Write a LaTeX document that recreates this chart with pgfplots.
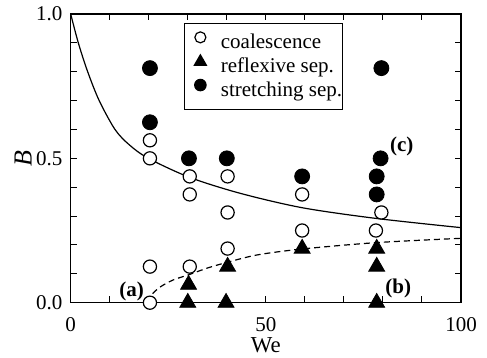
\documentclass[border=0pt]{standalone}
\usepackage{fontspec}
\setmainfont{Liberation Serif}
\usepackage{pgfplots}
\pgfplotsset{compat=1.18}
\begin{document}
\begin{tikzpicture}
\path[use as bounding box] (-35.35pt,-27.65pt) rectangle (208.15pt,151.35pt);
\begin{axis}[
 at={(0,0)}, anchor=south west,
 scale only axis, width=195.15pt, height=144.35pt,
 xmin=0,xmax=100,ymin=0,ymax=1,
 xtick={0,50,100}, minor xtick={10,20,30,40,60,70,80,90},
 ytick={0,0.5,1}, minor ytick={0.1,0.2,0.3,0.4,0.6,0.7,0.8,0.9},
 yticklabels={0.0,0.5,1.0},
 xticklabels={0,50,100},
 tick align=inside, major tick length=3.2pt, minor tick length=3.2pt,
 tick style={black, line width=0.5pt},
 axis line style={line width=0.6pt},
 font=\fontsize{10.5}{12}\selectfont,
 /pgf/number format/assume math mode=true,
 yticklabel style={anchor=east, inner xsep=0pt, xshift=-4pt},
 xticklabel style={yshift=-4pt},
 xlabel={We}, ylabel={\textit{B}},
 xlabel style={at={(axis description cs:0.5,-0.147)},anchor=center,font=\fontsize{11.4}{13}\selectfont},
 ylabel style={at={(axis description cs:-0.122,0.5)},anchor=center,font=\fontsize{13}{15}\selectfont},
 clip=false,
 legend cell align=left,
 legend image code/.code={\draw[#1] plot coordinates {(7.75pt,3pt)}; \path[draw=none,fill=none] (0pt,0pt) -- (18pt,0pt);},
 legend style={at={(axis cs:29.1,0.97)}, anchor=north west, draw=black, line width=0.6pt,
   font=\fontsize{10.5}{12}\selectfont, inner xsep=0pt, inner ysep=4.3pt,
   nodes={inner sep=0pt, text height=7.6pt, text depth=2.5pt},
   row sep=0.7pt, column sep=0pt},
]
\addplot[forget plot, smooth, line width=0.6pt, black] coordinates {
 (0,1) (1.95,0.9) (4.35,0.8) (7.3,0.7) (11.35,0.6) (15,0.547) (19.9,0.5) (30.5,0.434) (43.4,0.379) (59.3,0.329) (78.2,0.292) (100,0.26)};
\addplot[forget plot, smooth, line width=0.6pt, black, dash pattern=on 3pt off 2pt] coordinates {
 (20,0) (20.7,0.027) (23,0.055) (26.3,0.079) (30.5,0.098) (35,0.12) (40.4,0.141) (48,0.166) (59.3,0.186) (78.2,0.208) (100,0.223)};
\addplot[only marks, mark=*, mark size=3.3pt, mark options={fill=white, draw=black, line width=0.6pt},
  legend image post style={mark size=2.75pt}] coordinates {
 (20.3,0) (20.3,0.125) (20.3,0.5) (20.3,0.5625)
 (30.5,0.125) (30.5,0.375) (30.5,0.4375)
 (40.2,0.1875) (40.2,0.3125) (40.2,0.4375)
 (59.3,0.25) (59.3,0.375)
 (78.2,0.25) (79.6,0.3125)};
\addlegendentry{coalescence}
\addplot[only marks, mark=triangle*, mark size=4.6pt, mark options={fill=black, draw=black},
  legend image post style={mark size=3.5pt}] coordinates {
 (30,0) (30.2,0.0625)
 (39.8,0) (40.2,0.125)
 (59.3,0.1875)
 (78.4,0) (78.4,0.125) (78.4,0.1875)};
\addlegendentry{reflexive sep.}
\addplot[only marks, mark=*, mark size=3.75pt, mark options={fill=black, draw=black},
  legend image post style={mark size=2.85pt}] coordinates {
 (20.3,0.8125) (20.3,0.625)
 (30.3,0.5) (40,0.5)
 (59.3,0.4375)
 (79.6,0.8125) (79.4,0.5) (78.4,0.4375) (78.4,0.375)};
\addlegendentry{stretching sep.\hspace{2.85pt}}
\node[font=\bfseries\fontsize{10.5}{12}\selectfont] at (axis cs:15.6,0.038) {(a)};
\node[font=\bfseries\fontsize{10.5}{12}\selectfont] at (axis cs:83.9,0.05) {(b)};
\node[font=\bfseries\fontsize{10.5}{12}\selectfont] at (axis cs:84.8,0.54) {(c)};
\end{axis}
\end{tikzpicture}
\end{document}
